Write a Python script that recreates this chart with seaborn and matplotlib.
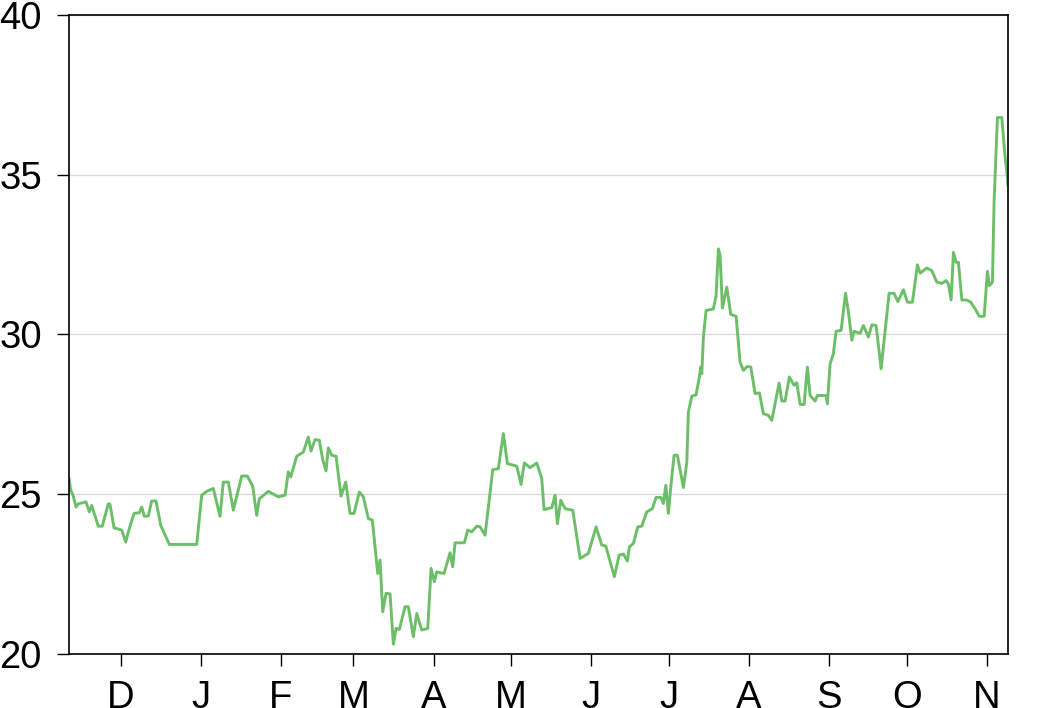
import matplotlib
matplotlib.use("Agg")
import matplotlib.pyplot as plt
import matplotlib.dates as mdates
from matplotlib.ticker import FuncFormatter
import seaborn as sns
import pandas as pd
import numpy as np

# ---- data ----
start_date = "2006-11-11"
span_days = 363.2
day_offsets = [
    0, 0.66, 1.55, 2.71, 3.6, 6.58, 7.85, 8.78, 11.33, 12.88, 15.2, 15.86, 17.41, 20.39,
    21.93, 22.94, 25.14, 27.19, 28.12, 29.13, 30.68, 31.99, 33.66, 35.47, 38.8, 49.4,
    51.33, 53.27, 55.82, 58.41, 59.69, 61.63, 63.56, 66.81, 68.98, 71.06, 72.61, 73.62,
    77.1, 80.97, 83.56, 84.84, 85.76, 88.08, 90.64, 92.57, 93.62, 95.16, 96.83, 98.14,
    99.42, 100.31, 101.63, 103.29, 105.22, 107.04, 108.7, 110.25, 112.3, 113.85, 115.78,
    117.33, 119.42, 120.31, 121.35, 122.63, 124.18, 125.46, 126.5, 127.78, 129.98, 131.26,
    133.19, 134.51, 136.44, 138.76, 140.04, 141.31, 142.24, 145.07, 147.39, 148.43, 149.32,
    152.92, 154.23, 155.78, 157.71, 158.99, 160.93, 163.9, 166.07, 168.0, 169.55, 173.19,
    174.85, 176.13, 178.34, 180.93, 182.86, 183.75, 186.73, 188.01, 188.9, 190.21, 191.88,
    194.86, 197.68, 200.89, 203.87, 206.07, 207.62, 210.95, 212.77, 214.43, 215.98, 216.75,
    218.3, 220.0, 221.55, 223.48, 225.65, 227.08, 228.9, 229.91, 230.84, 231.84, 232.77,
    234.05, 235.32, 237.64, 238.96, 239.58, 240.89, 242.55, 243.83, 244.37, 244.76, 245.38,
    246.42, 249.25, 250.29, 251.18, 251.84, 252.73, 254.43, 255.98, 258.03, 259.57, 260.85,
    262.4, 263.71, 265.38, 267.04, 268.59, 270.52, 271.84, 273.11, 274.66, 275.7, 276.98,
    278.64, 280.46, 281.5, 282.78, 284.33, 285.6, 286.65, 288.58, 289.47, 292.84, 293.34,
    294.39, 295.66, 296.71, 298.64, 300.37, 301.47, 302.79, 303.68, 306.0, 307.27, 309.2,
    310.52, 312.19, 314.12, 315.4, 317.21, 319.15, 320.58, 322.75, 324.29, 326.23, 328.16,
    329.21, 331.8, 333.73, 335.67, 337.6, 339.27, 340.15, 341.2, 342.09, 343.13, 344.02,
    345.34, 347.27, 348.82, 350.48, 352.15, 353.97, 355.24, 356.02, 357.18, 357.83, 359.11,
    360.81, 362.09, 362.98, 363.2,
]
values = [
    25.5, 25.13, 24.97, 24.6, 24.7, 24.76, 24.45, 24.65, 24.0, 24.0, 24.7, 24.69, 23.95, 23.88,
    23.5, 23.82, 24.4, 24.42, 24.6, 24.31, 24.32, 24.79, 24.79, 24.03, 23.43, 23.43,
    24.97, 25.09, 25.18, 24.31, 25.38, 25.38, 24.5, 25.57, 25.57, 25.25, 24.34, 24.86,
    25.09, 24.92, 24.97, 25.7, 25.54, 26.19, 26.32, 26.79, 26.35, 26.71, 26.69, 26.08,
    25.73, 26.45, 26.22, 26.19, 24.94, 25.38, 24.4, 24.4, 25.07, 24.92, 24.24,
    24.19, 22.52, 22.94, 21.32, 21.9, 21.88, 20.31, 20.8, 20.77, 21.48, 21.48,
    20.54, 21.27, 20.75, 20.8, 22.68, 22.26, 22.57, 22.52, 23.17, 22.73, 23.48,
    23.48, 23.88, 23.82, 24.0, 23.98, 23.72, 25.77, 25.8, 26.9, 25.96, 25.88,
    25.31, 25.98, 25.83, 25.98, 25.49, 24.52, 24.58, 24.97, 24.08, 24.81, 24.55,
    24.5, 22.99, 23.15, 23.98, 23.41, 23.38, 22.42, 23.09, 23.13, 22.91, 23.35,
    23.46, 23.98, 24.0, 24.45, 24.55, 24.9, 24.9, 24.71, 25.28, 24.4, 25.23,
    26.22, 26.22, 25.21, 26.0, 27.57, 28.07, 28.11, 28.67, 28.98, 28.77, 29.92,
    30.75, 30.8, 31.22, 32.68, 32.47, 30.83, 31.48, 30.63, 30.57, 29.13, 28.88,
    29.0, 28.98, 28.15, 28.17, 27.52, 27.47, 27.31, 27.83, 28.48, 27.92, 27.92,
    28.67, 28.41, 28.49, 27.81, 27.81, 28.98, 28.09, 27.92, 28.09, 28.09, 27.83,
    29.08, 29.4, 30.1, 30.13, 31.29, 30.7, 29.82, 30.1, 30.04, 30.28, 29.92,
    30.3, 30.28, 28.93, 29.92, 31.29, 31.29, 31.03, 31.4, 31.01, 31.01, 32.18,
    31.92, 32.08, 32.0, 31.64, 31.6, 31.69, 31.58, 31.08, 32.57, 32.26, 32.26,
    31.08, 31.08, 31.01, 30.8, 30.57, 30.57, 31.98, 31.53, 31.64, 34.19, 36.79,
    36.79, 35.54, 34.92, 34.65,
]
y_ticks = [20, 25, 30, 35, 40]

# ---- figure ----
sns.set_style("white")
plt.rcParams["font.family"] = ["Liberation Sans", "DejaVu Sans"]

base = pd.Timestamp(start_date)
df = pd.DataFrame({
    "date": base + pd.to_timedelta(np.array(day_offsets), unit="D"),
    "value": values,
})

fig = plt.figure(figsize=(10.4, 7.08), dpi=100)
ax = fig.add_axes([69 / 1040, 54 / 708, (1008 - 69) / 1040, (654 - 15) / 708])

sns.lineplot(data=df, x="date", y="value", ax=ax, color="#6cbf68", linewidth=2.1,
             sort=False, estimator=None)

ax.set_xlim(base, base + pd.Timedelta(days=span_days))
ax.set_ylim(20, 40)
ax.set_yticks(y_ticks)
ax.yaxis.grid(True, color="#d8d8d8", linewidth=0.9)
ax.xaxis.grid(False)
ax.set_axisbelow(True)

ax.xaxis.set_major_locator(mdates.MonthLocator())
ax.xaxis.set_major_formatter(FuncFormatter(lambda x, p: mdates.num2date(x).strftime("%b")[0]))

for s in ax.spines.values():
    s.set_visible(True)
    s.set_color("black")
    s.set_linewidth(1.2)

ax.tick_params(axis="both", direction="out", length=8.5, width=1.0, color="black",
               labelsize=27.5, labelcolor="black", bottom=True, left=True,
               top=False, right=False)
ax.tick_params(axis="y", pad=11)
ax.tick_params(axis="x", pad=10)
ax.set_xlabel("")
ax.set_ylabel("")

fig.savefig("out.png", dpi=100)
